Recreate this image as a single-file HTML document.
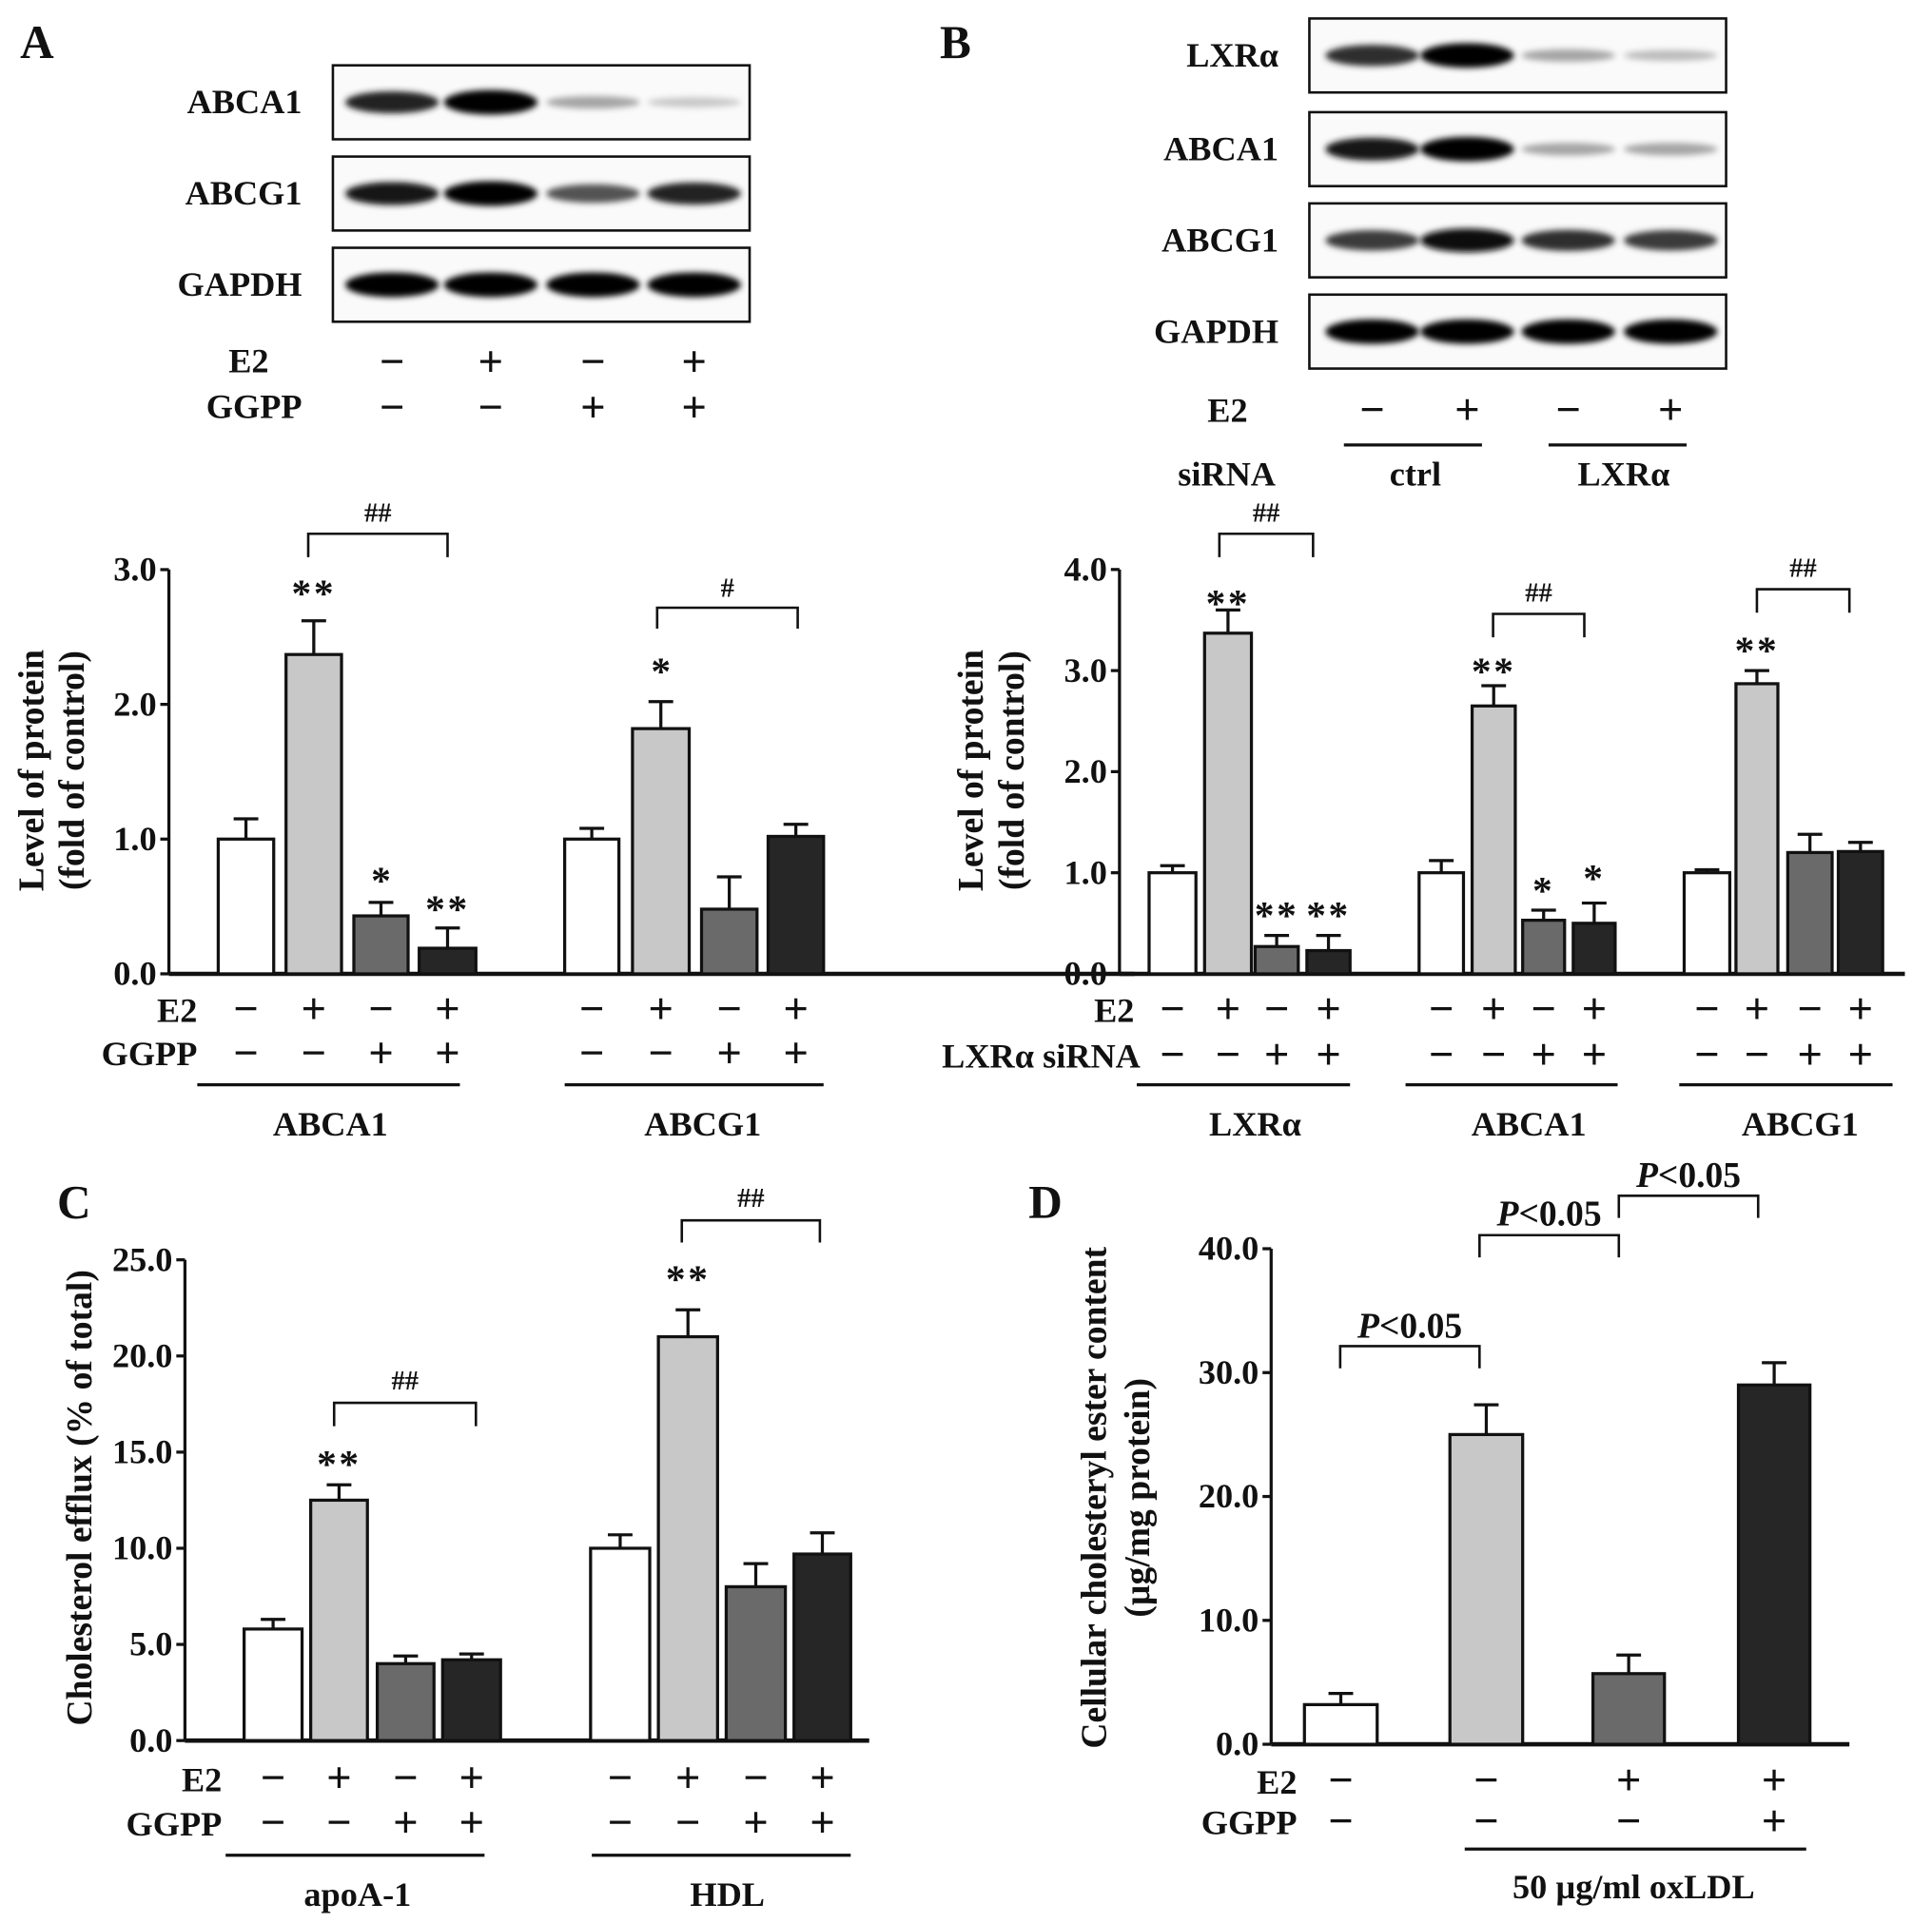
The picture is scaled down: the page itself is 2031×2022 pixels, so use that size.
<!DOCTYPE html>
<html><head><meta charset="utf-8">
<style>
html,body{margin:0;padding:0;background:#fff;}
svg{display:block;}
text{font-family:"Liberation Serif",serif;font-weight:bold;fill:#111;}
</style></head>
<body>
<svg id="fig" xmlns="http://www.w3.org/2000/svg" width="2031" height="2022" viewBox="0 0 1567 1560" preserveAspectRatio="none">
<defs><filter id="blur" x="-20%" y="-100%" width="140%" height="300%"><feGaussianBlur stdDeviation="2.5"/></filter></defs>
</svg>
<script>
// ---------- DATA ----------
const aCategories = ["ABCA1","ABCG1"];
const aValues = [[1.0,2.37,0.43,0.19],[1.0,1.82,0.48,1.02]];
const aErrors = [[0.15,0.25,0.10,0.15],[0.08,0.20,0.24,0.09]];
const aTicks = ["0.0","1.0","2.0","3.0"];
const bCategories = ["LXRα","ABCA1","ABCG1"];
const bValues = [[1.0,3.37,0.27,0.23],[1.0,2.65,0.53,0.50],[1.0,2.87,1.20,1.21]];
const bErrors = [[0.07,0.23,0.11,0.15],[0.12,0.20,0.10,0.20],[0.03,0.13,0.18,0.09]];
const bTicks = ["0.0","1.0","2.0","3.0","4.0"];
const cCategories = ["apoA-1","HDL"];
const cValues = [[5.8,12.5,4.0,4.2],[10.0,21.0,8.0,9.7]];
const cErrors = [[0.5,0.8,0.4,0.3],[0.7,1.4,1.2,1.1]];
const cTicks = ["0.0","5.0","10.0","15.0","20.0","25.0"];
const dValues = [3.2,25.0,5.7,29.0];
const dErrors = [0.9,2.4,1.5,1.8];
const dTicks = ["0.0","10.0","20.0","30.0","40.0"];

const fills = ["#ffffff","#c8c8c8","#6a6a6a","#262626"];
const NS = "http://www.w3.org/2000/svg";
const svg = document.getElementById('fig');
function mk(tag, attrs, parent){
  const e = document.createElementNS(NS, tag);
  for (const k in attrs) e.setAttribute(k, attrs[k]);
  (parent||svg).appendChild(e); return e;
}
function txt(x,y,s,size,anchor,name,extra){
  const t = mk('text',Object.assign({x:x,y:y,'font-size':size,'text-anchor':anchor||'middle'},extra||{}));
  t.textContent = s;
  
  
  return t;
}
function line(x1,y1,x2,y2,w,name){
  const l = mk('line',{x1:x1,y1:y1,x2:x2,y2:y2,stroke:'#111','stroke-width':w||2.5});
  
  
  return l;
}
function bracket(x1,x2,top,bot,label,ly,name,italic){
  const p = mk('path',{d:`M${x1},${bot}V${top}H${x2}V${bot}`,fill:'none',stroke:'#111','stroke-width':2});
  
  
  if (italic){
    const t = mk('text',{x:(x1+x2)/2,y:ly,'font-size':29,'text-anchor':'middle'});
    
    
    const ts = mk('tspan',{'font-style':'italic'},t); ts.textContent='P';
    const ts2 = mk('tspan',{},t); ts2.textContent='<0.05';
  } else txt((x1+x2)/2,ly,label,22,'middle',name+'-label',{'font-weight':'normal'});
}
function signs(xs, arr, y, name){
  arr.forEach((s,i)=>txt(xs[i],y,s?'+':'−',36,'middle',name,{'font-weight':'normal'}));
}
function yAxis(ax, ticks, name){
  const g = mk('g',{});
  
  
  mk('line',{x1:ax.x,y1:ax.y0,x2:ax.x,y2:ax.ytop,stroke:'#111','stroke-width':2.5},g);
  mk('line',{x1:ax.x,y1:ax.y0,x2:ax.xend,y2:ax.y0,stroke:'#111','stroke-width':3.5},g);
  ticks.forEach(t=>{
    const y = ax.sy(parseFloat(t));
    mk('line',{x1:ax.x-7,y1:y,x2:ax.x,y2:y,stroke:'#111','stroke-width':2.5},g);
    const tt = mk('text',{x:ax.x-10,y:y+9,'font-size':28,'text-anchor':'end'},g);
    tt.textContent = t;
  });
}
function drawBar(ax, x0, x1, v, e, fill, name){
  const y = ax.sy(v), ye = ax.sy(v+e), cx=(x0+x1)/2;
  const el = mk('line',{x1:cx,y1:y,x2:cx,y2:ye,stroke:'#111','stroke-width':2.5});
  
  
  const cap = mk('line',{x1:cx-10,y1:ye,x2:cx+10,y2:ye,stroke:'#111','stroke-width':2.5});
  
  
  const r = mk('rect',{x:x0,y:y,width:x1-x0,height:ax.y0-y,fill:fill,stroke:'#111','stroke-width':2.5});
  
  
}
function blot(x0,y0,x1,y1,lanes,intens,name,label,labelX){
  const g = mk('g',{});
  
  
  mk('rect',{x:x0,y:y0,width:x1-x0,height:y1-y0,fill:'#fafafa',stroke:'#111','stroke-width':2},g);
  lanes.forEach((cx,i)=>{
    const v = intens[i];
    const c = Math.round(235 - 235*v);
    mk('ellipse',{cx:cx,cy:(y0+y1)/2,rx:38,ry:3+7*v,fill:`rgb(${c},${c},${c})`,filter:'url(#blur)'},g);
  });
  txt(labelX,(y0+y1)/2+9,label,28,'end',name+'-label');
}

// ---------- PANEL A ----------
txt(30,47,'A',38,'middle','panel-a-label');
const aLanes=[318,398,481,563];
blot(270,53,608,113,aLanes,[0.85,1,0.3,0.15],'blot-a-abca1','ABCA1',245);
blot(270,127,608,187,aLanes,[0.9,1,0.65,0.85],'blot-a-abcg1','ABCG1',245);
blot(270,201,608,261,aLanes,[1,1,1,1],'blot-a-gapdh','GAPDH',245);
txt(218,302,'E2',28,'end','blot-a-e2-label');
txt(245,339,'GGPP',28,'end','blot-a-ggpp-label');
signs(aLanes,[0,1,0,1],305,'blot-a-e2-sign');
signs(aLanes,[0,0,1,1],342,'blot-a-ggpp-sign');

const axA = {x:137,y0:790,ytop:462,xend:920,sy:v=>790-v*109.3};
yAxis(axA,aTicks,'chart-a-y-axis');
const aBarX=[[177,222],[232,277],[287,331],[340,386],[458,502],[513,559],[569,614],[623,668]];
aValues.forEach((grp,gi)=>grp.forEach((v,i)=>{
  const b=aBarX[gi*4+i]; drawBar(axA,b[0],b[1],v,aErrors[gi][i],fills[i],'bar-a-'+aCategories[gi].toLowerCase()+'-'+(i+1));
}));
const aCx = aBarX.map(b=>(b[0]+b[1])/2);
bracket(250,363,433,452,'##',423,'bracket-a-1');
bracket(533,647,493,510,'#',484,'bracket-a-2');
txt(aCx[1],492,'**',32,'middle','sig-a',{'font-weight':'normal','letter-spacing':'2'});
txt(aCx[2],725,'*',32,'middle','sig-a',{'font-weight':'normal'});
txt(aCx[3],748,'**',32,'middle','sig-a',{'font-weight':'normal','letter-spacing':'2'});
txt(aCx[5],555,'*',32,'middle','sig-a',{'font-weight':'normal'});
const ylA = mk('text',{transform:'translate(35,625) rotate(-90)','font-size':29,'text-anchor':'middle'});
ylA.textContent='Level of protein';


const ylA2 = mk('text',{transform:'translate(68,625) rotate(-90)','font-size':29,'text-anchor':'middle'});
ylA2.textContent='(fold of control)';


txt(160,829,'E2',28,'end','chart-a-e2-label');
txt(160,864,'GGPP',28,'end','chart-a-ggpp-label');
signs(aCx,[0,1,0,1,0,1,0,1],830,'chart-a-e2-sign');
signs(aCx,[0,0,1,1,0,0,1,1],866,'chart-a-ggpp-sign');
line(160,880,373,880,2.5,'group-line-abca1');
line(458,880,668,880,2.5,'group-line-abcg1');
txt(268,921,'ABCA1',28,'middle','group-label-a-abca1');
txt(570,921,'ABCG1',28,'middle','group-label-a-abcg1');

// ---------- PANEL B ----------
txt(775,47,'B',38,'middle','panel-b-label');
const bLanes=[1113,1190,1272,1355];
blot(1062,15,1400,75,bLanes,[0.8,1,0.3,0.2],'blot-b-lxra','LXRα',1037);
blot(1062,91,1400,151,bLanes,[0.9,1,0.3,0.3],'blot-b-abca1','ABCA1',1037);
blot(1062,165,1400,225,bLanes,[0.75,0.95,0.8,0.75],'blot-b-abcg1','ABCG1',1037);
blot(1062,239,1400,299,bLanes,[1,1,1,1],'blot-b-gapdh','GAPDH',1037);
txt(1012,342,'E2',28,'end','blot-b-e2-label');
signs(bLanes,[0,1,0,1],344,'blot-b-e2-sign');
line(1090,361,1202,361,2.5,'sirna-line-ctrl');
line(1256,361,1368,361,2.5,'sirna-line-lxra');
txt(995,394,'siRNA',28,'middle','blot-b-sirna-label');
txt(1148,394,'ctrl',28,'middle','sirna-ctrl-label');
txt(1317,394,'LXRα',28,'middle','sirna-lxra-label');

const axB = {x:908,y0:790,ytop:462,xend:1545,sy:v=>790-v*82};
yAxis(axB,bTicks,'chart-b-y-axis');
const bBarX=[[932,970],[977,1015],[1018,1053],[1060,1095],[1151,1187],[1194,1229],[1235,1269],[1276,1310],[1366,1403],[1408,1442],[1450,1486],[1491,1527]];
bValues.forEach((grp,gi)=>grp.forEach((v,i)=>{
  const b=bBarX[gi*4+i]; drawBar(axB,b[0],b[1],v,bErrors[gi][i],fills[i],'bar-b-'+gi+'-'+(i+1));
}));
const bCx = bBarX.map(b=>(b[0]+b[1])/2);
bracket(989,1065,433,452,'##',423,'bracket-b-1');
bracket(1211,1285,498,517,'##',488,'bracket-b-2');
bracket(1425,1500,478,497,'##',468,'bracket-b-3');
[[1,500,'**'],[2,753,'**'],[3,753,'**'],[5,555,'**'],[6,733,'*'],[7,723,'*'],[9,538,'**']].forEach(s=>
  txt(bCx[s[0]],s[1],s[2],32,'middle','sig-b',{'font-weight':'normal','letter-spacing':'2'}));
const ylB = mk('text',{transform:'translate(797,625) rotate(-90)','font-size':29,'text-anchor':'middle'});
ylB.textContent='Level of protein';


const ylB2 = mk('text',{transform:'translate(830,625) rotate(-90)','font-size':29,'text-anchor':'middle'});
ylB2.textContent='(fold of control)';


txt(920,829,'E2',28,'end','chart-b-e2-label');
txt(925,866,'LXRα siRNA',28,'end','chart-b-sirna-label');
signs(bCx,[0,1,0,1,0,1,0,1,0,1,0,1],830,'chart-b-e2-sign');
signs(bCx,[0,0,1,1,0,0,1,1,0,0,1,1],867,'chart-b-sirna-sign');
line(922,880,1095,880,2.5,'group-line-b-lxra');
line(1140,880,1312,880,2.5,'group-line-b-abca1');
line(1362,880,1535,880,2.5,'group-line-b-abcg1');
txt(1018,921,'LXRα',28,'middle','group-label-b-lxra');
txt(1240,921,'ABCA1',28,'middle','group-label-b-abca1');
txt(1460,921,'ABCG1',28,'middle','group-label-b-abcg1');

// ---------- PANEL C ----------
txt(60,988,'C',38,'middle','panel-c-label');
const axC = {x:150,y0:1412,ytop:1022,xend:705,sy:v=>1412-v*15.6};
yAxis(axC,cTicks,'chart-c-y-axis');
const cBarX=[[198,245],[252,298],[306,352],[359,406],[479,527],[534,582],[589,637],[644,690]];
cValues.forEach((grp,gi)=>grp.forEach((v,i)=>{
  const b=cBarX[gi*4+i]; drawBar(axC,b[0],b[1],v,cErrors[gi][i],fills[i],'bar-c-'+cCategories[gi].toLowerCase()+'-'+(i+1));
}));
const cCx = cBarX.map(b=>(b[0]+b[1])/2);
bracket(271,386,1138,1157,'##',1127,'bracket-c-1');
bracket(553,665,990,1008,'##',979,'bracket-c-2');
txt(cCx[1],1198,'**',32,'middle','sig-c',{'font-weight':'normal','letter-spacing':'2'});
txt(cCx[5],1048,'**',32,'middle','sig-c',{'font-weight':'normal','letter-spacing':'2'});
const ylC = mk('text',{transform:'translate(74,1215) rotate(-90)','font-size':29,'text-anchor':'middle'});
ylC.textContent='Cholesterol efflux  (% of total)';


txt(180,1453,'E2',28,'end','chart-c-e2-label');
txt(180,1489,'GGPP',28,'end','chart-c-ggpp-label');
signs(cCx,[0,1,0,1,0,1,0,1],1454,'chart-c-e2-sign');
signs(cCx,[0,0,1,1,0,0,1,1],1490,'chart-c-ggpp-sign');
line(183,1505,393,1505,2.5,'group-line-c-apoa1');
line(480,1505,690,1505,2.5,'group-line-c-hdl');
txt(290,1546,'apoA-1',28,'middle','group-label-c-apoa1');
txt(590,1546,'HDL',28,'middle','group-label-c-hdl');

// ---------- PANEL D ----------
txt(848,988,'D',38,'middle','panel-d-label');
const axD = {x:1031,y0:1415,ytop:1013,xend:1500,sy:v=>1415-v*10.05};
yAxis(axD,dTicks,'chart-d-y-axis');
const dBarX=[[1058,1117],[1176,1235],[1292,1350],[1410,1468]];
dValues.forEach((v,i)=>drawBar(axD,dBarX[i][0],dBarX[i][1],v,dErrors[i],fills[i],'bar-d-'+(i+1)));
const dCx = dBarX.map(b=>(b[0]+b[1])/2);
bracket(1087,1200,1092,1110,'',1085,'bracket-d-1',true);
bracket(1200,1313,1002,1020,'',994,'bracket-d-2',true);
bracket(1313,1426,970,988,'',963,'bracket-d-3',true);
const ylD = mk('text',{transform:'translate(897,1215) rotate(-90)','font-size':29,'text-anchor':'middle'});
ylD.textContent='Cellular cholesteryl ester content';


const ylD2 = mk('text',{transform:'translate(932,1215) rotate(-90)','font-size':29,'text-anchor':'middle'});
ylD2.textContent='(µg/mg protein)';


txt(1052,1455,'E2',28,'end','chart-d-e2-label');
txt(1052,1488,'GGPP',28,'end','chart-d-ggpp-label');
signs(dCx,[0,0,1,1],1456,'chart-d-e2-sign');
signs(dCx,[0,0,0,1],1489,'chart-d-ggpp-sign');
line(1188,1500,1465,1500,2.5,'oxldl-line');
txt(1325,1540,'50 µg/ml  oxLDL',28,'middle','oxldl-label',{'xml:space':'preserve'});
</script>
</body></html>
